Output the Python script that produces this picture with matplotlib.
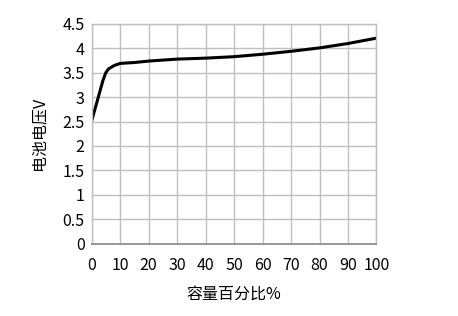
import matplotlib.pyplot as plt
import numpy as np

plt.rcParams['font.family'] = ['Noto Sans CJK SC', 'DejaVu Sans']

# 容量百分比 / 电池电压
capacity = [0, 2, 4, 5, 6, 8, 10, 12, 15, 20, 25, 30, 40, 50, 60, 70, 80, 90, 100]
voltage = [2.5, 2.92, 3.34, 3.5, 3.58, 3.65, 3.69, 3.70, 3.71, 3.74, 3.76, 3.78,
           3.80, 3.83, 3.88, 3.94, 4.01, 4.10, 4.21]
xticks = np.arange(0, 101, 10)
yticks = np.arange(0, 4.51, 0.5)
ytick_labels = ['0', '0.5', '1', '1.5', '2', '2.5', '3', '3.5', '4', '4.5']

fig = plt.figure(figsize=(4.58, 3.16), dpi=100)
ax = fig.add_axes([91.5 / 458, 1 - 243.5 / 316, 285 / 458, 219.5 / 316])

ax.plot(capacity, voltage, color='black', linewidth=2.2, solid_capstyle='round')

ax.set_xlim(0, 100)
ax.set_ylim(0, 4.5)
ax.set_xticks(xticks)
ax.set_yticks(yticks)
ax.set_yticklabels(ytick_labels)
ax.grid(True, color='#c0c0c0', linewidth=1)
ax.tick_params(length=0, labelsize=11.5, colors='black')
ax.tick_params(axis='x', pad=10)
ax.tick_params(axis='y', pad=5)
for s in ax.spines.values():
    s.set_color('#c0c0c0')
    s.set_linewidth(1)
ax.spines['bottom'].set_color('#909090')
ax.spines['bottom'].set_linewidth(1.3)

ax.set_xlabel('容量百分比%', fontsize=11.5, labelpad=8)
ax.set_ylabel('电池电压V', fontsize=11.5, labelpad=11)

fig.savefig('out.png', dpi=100)
